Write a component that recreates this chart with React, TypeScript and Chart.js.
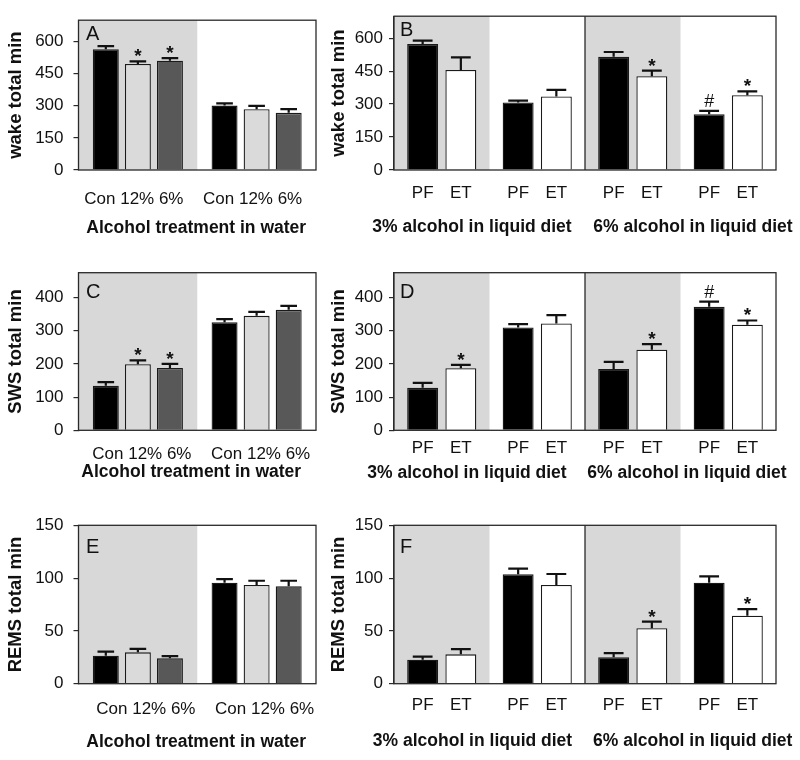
import React, { useEffect, useRef } from "react";
import { Chart, registerables } from "chart.js";

Chart.register(...registerables);

const FONT = "'Liberation Sans', Arial, Helvetica, sans-serif";

// ---------------- data ----------------
// Left column (A, C, E): alcohol in water; two groups (shaded / unshaded), three series
const waterSeries = ["Con", "12%", "6%"];
const waterGroupLabels = ["Con 12% 6%", "Con 12% 6%"];
const waterTitle = "Alcohol treatment in water";

// Right column (B, D, F): liquid diet; four groups, two series
const dietSeries = ["PF", "ET"];
const dietGroupTitles = ["3% alcohol in liquid diet", "6% alcohol in liquid diet"];

const wakeTicks = [0, 150, 300, 450, 600];
const swsTicks = [0, 100, 200, 300, 400];
const remsTicks = [0, 50, 100, 150];

// Panel A: wake, water
const wakeWaterCon = [564, 301];
const wakeWaterConErr = [15, 10];
const wakeWater12 = [495, 284];
const wakeWater12Err = [13, 16];
const wakeWater6 = [511, 267];
const wakeWater6Err = [12, 17];
const wakeWaterConMarks = ["", ""];
const wakeWater12Marks = ["*", ""];
const wakeWater6Marks = ["*", ""];

// Panel B: wake, diet
const wakeDietPF = [573, 307, 515, 254];
const wakeDietPFErr = [16, 9, 22, 15];
const wakeDietET = [455, 335, 427, 340];
const wakeDietETErr = [58, 30, 25, 18];
const wakeDietPFMarks = ["", "", "", "#"];
const wakeDietETMarks = ["", "", "*", "*"];

// Panel C: SWS, water
const swsWaterCon = [134, 326];
const swsWaterConErr = [11, 9];
const swsWater12 = [199, 345];
const swsWater12Err = [12, 12];
const swsWater6 = [188, 363];
const swsWater6Err = [12, 12];
const swsWaterConMarks = ["", ""];
const swsWater12Marks = ["*", ""];
const swsWater6Marks = ["*", ""];

// Panel D: SWS, diet
const swsDietPF = [128, 310, 185, 372];
const swsDietPFErr = [15, 10, 21, 16];
const swsDietET = [187, 322, 243, 318];
const swsDietETErr = [10, 25, 17, 13];
const swsDietPFMarks = ["", "", "", "#"];
const swsDietETMarks = ["*", "", "*", "*"];

// Panel E: REMS, water
const remsWaterCon = [26.5, 95.6];
const remsWaterConErr = [3.8, 3.5];
const remsWater12 = [29.7, 93.5];
const remsWater12Err = [3.2, 4];
const remsWater6 = [24, 92.2];
const remsWater6Err = [2.2, 5.3];
const remsWaterConMarks = ["", ""];
const remsWater12Marks = ["", ""];
const remsWater6Marks = ["", ""];

// Panel F: REMS, diet
const remsDietPF = [22.7, 103.6, 25, 95.6];
const remsDietPFErr = [2.9, 5.3, 4, 6];
const remsDietET = [27.8, 93.5, 52.5, 64.4];
const remsDietETErr = [5, 10.4, 6.2, 6.3];
const remsDietPFMarks = ["", "", "", ""];
const remsDietETMarks = ["", "", "*", "*"];

// ---------------- styles ----------------
const SHADE = "#d8d8d8";
const LINE = "#2a2a2a";
const TEXT = "#111111";
const waterColors = ["#000000", "#dadada", "#585858"];
const dietColors = ["#000000", "#ffffff"];

type Series = {
  label: string;
  color: string;
  values: number[];
  errors: number[];
  marks: string[];
};

type Spec = {
  letter: string;
  yTitle: string;
  yMax: number;
  yTicks: number[];
  series: Series[];
  shaded: boolean[];
  divider: boolean;
  kind: "water" | "diet";
  col: { left: number; width: number; chartLeft: number; chartRight: number; yTitlePad: number; tickPad: number; letterDx: number };
  row: { top: number; height: number; chartTop: number; chartBottom: number; letterBase: number };
  catPct: number;
  barPct: number;
  labelBase: number;
  titleBase: number;
  labelDx: number;
  titleDx: number[];
};

const COL_L = { left: 0, width: 330, chartLeft: 78.5, chartRight: 316, yTitlePad: 5, tickPad: 10, letterDx: 7.5 };
const COL_R = { left: 325, width: 475, chartLeft: 69, chartRight: 451, yTitlePad: 3, tickPad: 6, letterDx: 6 };
const ROW1 = { top: 0, height: 250, chartTop: 12, chartBottom: 170, letterBase: 20 };
const ROW2 = { top: 250, height: 250, chartTop: 22.7, chartBottom: 180.3, letterBase: 25.6 };
const ROW3 = { top: 500, height: 260, chartTop: 25.3, chartBottom: 183.7, letterBase: 28 };

const water = (vals: number[][], errs: number[][], marks: string[][]): Series[] =>
  waterSeries.map((label, i) => ({ label, color: waterColors[i], values: vals[i], errors: errs[i], marks: marks[i] }));
const diet = (vals: number[][], errs: number[][], marks: string[][]): Series[] =>
  dietSeries.map((label, i) => ({ label, color: dietColors[i], values: vals[i], errors: errs[i], marks: marks[i] }));

const specs: Spec[] = [
  {
    letter: "A", yTitle: "wake total min", yMax: 700, yTicks: wakeTicks,
    series: water([wakeWaterCon, wakeWater12, wakeWater6], [wakeWaterConErr, wakeWater12Err, wakeWater6Err], [wakeWaterConMarks, wakeWater12Marks, wakeWater6Marks]),
    shaded: [true, false], divider: false, kind: "water", col: COL_L, row: ROW1,
    catPct: 0.81, barPct: 0.81, labelBase: 34, titleBase: 63, labelDx: -4, titleDx: [-1],
  },
  {
    letter: "B", yTitle: "wake total min", yMax: 700, yTicks: wakeTicks,
    series: diet([wakeDietPF, wakeDietET], [wakeDietPFErr, wakeDietETErr], [wakeDietPFMarks, wakeDietETMarks]),
    shaded: [true, false, true, false], divider: true, kind: "diet", col: COL_R, row: ROW1,
    catPct: 0.8, barPct: 0.81, labelBase: 28.3, titleBase: 61.5, labelDx: 0, titleDx: [-113, 108],
  },
  {
    letter: "C", yTitle: "SWS total min", yMax: 475, yTicks: swsTicks,
    series: water([swsWaterCon, swsWater12, swsWater6], [swsWaterConErr, swsWater12Err, swsWater6Err], [swsWaterConMarks, swsWater12Marks, swsWater6Marks]),
    shaded: [true, false], divider: false, kind: "water", col: COL_L, row: ROW2,
    catPct: 0.81, barPct: 0.81, labelBase: 29, titleBase: 46.4, labelDx: 4, titleDx: [-6],
  },
  {
    letter: "D", yTitle: "SWS total min", yMax: 475, yTicks: swsTicks,
    series: diet([swsDietPF, swsDietET], [swsDietPFErr, swsDietETErr], [swsDietPFMarks, swsDietETMarks]),
    shaded: [true, false, true, false], divider: true, kind: "diet", col: COL_R, row: ROW2,
    catPct: 0.8, barPct: 0.81, labelBase: 23, titleBase: 48, labelDx: 0, titleDx: [-118, 102],
  },
  {
    letter: "E", yTitle: "REMS total min", yMax: 150, yTicks: remsTicks,
    series: water([remsWaterCon, remsWater12, remsWater6], [remsWaterConErr, remsWater12Err, remsWater6Err], [remsWaterConMarks, remsWater12Marks, remsWater6Marks]),
    shaded: [true, false], divider: false, kind: "water", col: COL_L, row: ROW3,
    catPct: 0.81, barPct: 0.81, labelBase: 30.3, titleBase: 63, labelDx: 8, titleDx: [-1],
  },
  {
    letter: "F", yTitle: "REMS total min", yMax: 150, yTicks: remsTicks,
    series: diet([remsDietPF, remsDietET], [remsDietPFErr, remsDietETErr], [remsDietPFMarks, remsDietETMarks]),
    shaded: [true, false, true, false], divider: true, kind: "diet", col: COL_R, row: ROW3,
    catPct: 0.8, barPct: 0.81, labelBase: 26.3, titleBase: 62.3, labelDx: 0, titleDx: [-112.5, 107.7],
  },
];

const markLift: Record<string, number> = { "*": 0, "#": 5 };

function makeDecor(spec: Spec) {
  return {
    id: "panelDecor",
    beforeDatasetsDraw(chart: any) {
      const { ctx, chartArea: ca, scales } = chart;
      const x = scales.x;
      const half = (x.getPixelForValue(1) - x.getPixelForValue(0)) / 2;
      ctx.save();
      ctx.fillStyle = SHADE;
      spec.shaded.forEach((s, i) => {
        if (!s) return;
        const cx = x.getPixelForValue(i);
        const l = Math.max(ca.left, cx - half);
        const r = Math.min(ca.right, cx + half);
        ctx.fillRect(l, ca.top, r - l, ca.bottom - ca.top);
      });
      ctx.restore();
    },
    afterDatasetsDraw(chart: any) {
      const { ctx, chartArea: ca, scales } = chart;
      const x = scales.x;
      const y = scales.y;
      ctx.save();
      // error bars and significance marks
      ctx.strokeStyle = "#111";
      ctx.lineWidth = 2.2;
      ctx.fillStyle = TEXT;
      ctx.textAlign = "center";
      ctx.textBaseline = "alphabetic";
      spec.series.forEach((s, di) => {
        const meta = chart.getDatasetMeta(di);
        meta.data.forEach((bar: any, j: number) => {
          const p = bar.getProps(["x", "y", "width"], true);
          const top = y.getPixelForValue(s.values[j] + s.errors[j]);
          ctx.beginPath();
          ctx.moveTo(p.x, p.y);
          ctx.lineTo(p.x, top);
          ctx.moveTo(p.x - p.width * 0.32, top);
          ctx.lineTo(p.x + p.width * 0.32, top);
          ctx.stroke();
          const m = s.marks[j];
          if (m) {
            ctx.font = m === "*" ? `bold 19px ${FONT}` : `18px ${FONT}`;
            ctx.fillText(m, p.x, top + 1 - (markLift[m] || 0));
          }
        });
      });
      // box
      ctx.strokeStyle = LINE;
      ctx.lineWidth = 1.3;
      ctx.strokeRect(ca.left, ca.top, ca.right - ca.left, ca.bottom - ca.top);
      let divX = (ca.left + ca.right) / 2;
      if (spec.divider) {
        divX = (x.getPixelForValue(1) + x.getPixelForValue(2)) / 2;
        ctx.beginPath();
        ctx.moveTo(divX, ca.top);
        ctx.lineTo(divX, ca.bottom);
        ctx.stroke();
      }
      // letter
      ctx.fillStyle = TEXT;
      ctx.textAlign = "left";
      ctx.font = `20px ${FONT}`;
      ctx.fillText(spec.letter, ca.left + spec.col.letterDx, ca.top + spec.row.letterBase);
      // x labels
      ctx.font = `17px ${FONT}`;
      ctx.textAlign = "center";
      if (spec.kind === "water") {
        waterGroupLabels.forEach((t, i) => {
          ctx.fillText(t, x.getPixelForValue(i) + spec.labelDx, ca.bottom + spec.labelBase);
        });
        ctx.font = `bold 17.5px ${FONT}`;
        ctx.fillText(waterTitle, (ca.left + ca.right) / 2 + spec.titleDx[0], ca.bottom + spec.titleBase);
      } else {
        spec.series.forEach((s, di) => {
          const meta = chart.getDatasetMeta(di);
          meta.data.forEach((bar: any) => {
            const p = bar.getProps(["x"], true);
            ctx.fillText(s.label, p.x + spec.labelDx, ca.bottom + spec.labelBase);
          });
        });
        ctx.font = `bold 17.5px ${FONT}`;
        dietGroupTitles.forEach((t, i) => {
          ctx.fillText(t, divX + spec.titleDx[i], ca.bottom + spec.titleBase);
        });
      }
      ctx.restore();
    },
  };
}

function buildConfig(spec: Spec): any {
  const nGroups = spec.series[0].values.length;
  const yAxisWidth = spec.col.chartLeft;
  const xAxisHeight = spec.row.height - spec.row.chartBottom;
  return {
    type: "bar",
    data: {
      labels: Array.from({ length: nGroups }, (_, i) => `g${i + 1}`),
      datasets: spec.series.map((s) => ({
        label: s.label,
        data: s.values,
        backgroundColor: s.color,
        borderColor: "#1a1a1a",
        borderWidth: 1.3,
        categoryPercentage: spec.catPct,
        barPercentage: spec.barPct,
      })),
    },
    options: {
      animation: false,
      responsive: false,
      devicePixelRatio: 1,
      layout: {
        padding: {
          left: 0,
          top: spec.row.chartTop,
          right: spec.col.width - spec.col.chartRight,
          bottom: 0,
        },
      },
      plugins: { legend: { display: false }, tooltip: { enabled: false }, title: { display: false } },
      scales: {
        x: {
          type: "category",
          offset: true,
          ticks: { display: false },
          grid: { display: false, drawTicks: false },
          border: { display: false },
          afterFit: (s: any) => {
            s.height = xAxisHeight;
          },
        },
        y: {
          min: 0,
          max: spec.yMax,
          afterBuildTicks: (s: any) => {
            s.ticks = spec.yTicks.map((v) => ({ value: v }));
          },
          ticks: {
            padding: spec.col.tickPad,
            color: TEXT,
            font: { family: FONT, size: 17 },
          },
          grid: { drawOnChartArea: false, drawTicks: true, tickLength: 5, color: LINE, lineWidth: 1.2 },
          border: { display: true, color: LINE, width: 1.3 },
          title: {
            display: true,
            text: spec.yTitle,
            color: TEXT,
            font: { family: FONT, size: 18.5, weight: "bold" },
            padding: { top: spec.col.yTitlePad, bottom: 0 },
          },
          afterFit: (s: any) => {
            s.width = yAxisWidth;
          },
        },
      },
    },
    plugins: [makeDecor(spec)],
  };
}

function Panel({ spec }: { spec: Spec }) {
  const ref = useRef<HTMLCanvasElement | null>(null);
  useEffect(() => {
    if (!ref.current) return;
    const chart = new Chart(ref.current, buildConfig(spec));
    return () => chart.destroy();
  }, [spec]);
  return (
    <canvas
      ref={ref}
      width={spec.col.width}
      height={spec.row.height}
      style={{
        position: "absolute",
        left: spec.col.left,
        top: spec.row.top,
        width: spec.col.width,
        height: spec.row.height,
      }}
    />
  );
}

export default function App() {
  return (
    <div style={{ position: "absolute", left: 0, top: 0, width: 800, height: 760, background: "#ffffff", overflow: "hidden" }}>
      {specs.map((s) => (
        <Panel key={s.letter} spec={s} />
      ))}
    </div>
  );
}
